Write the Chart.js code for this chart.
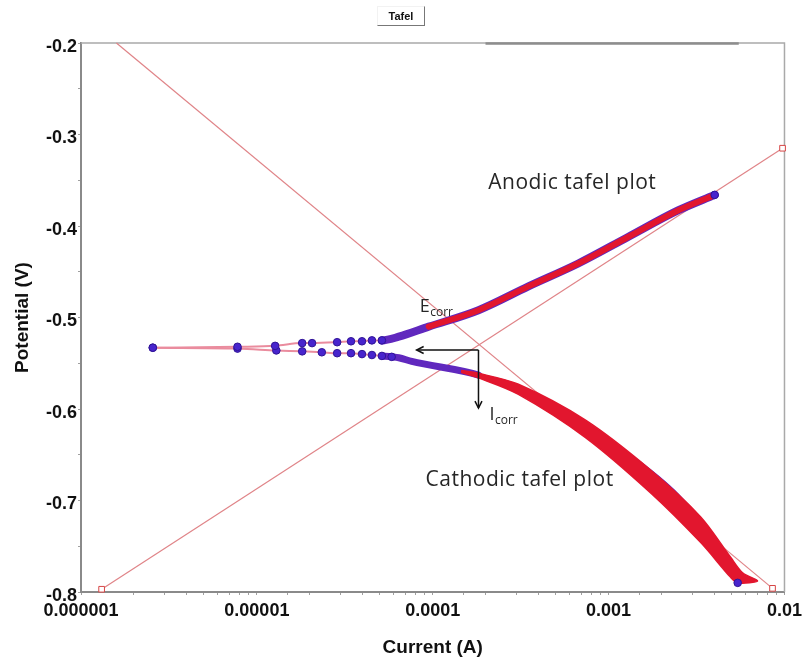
<!DOCTYPE html>
<html>
<head>
<meta charset="utf-8">
<script src="https://cdn.jsdelivr.net/npm/chart.js@4/dist/chart.umd.min.js"></script>
<style>
  html, body { margin: 0; padding: 0; background: #fff; }
  #wrap { position: relative; width: 807px; height: 665px; }
  #tafelTab {
    position: absolute; left: 377px; top: 6px; width: 48px; height: 20px;
    box-sizing: border-box; border: 1px solid; border-color: #f2f2f2 #777 #777 #f2f2f2;
    font: bold 11px "Liberation Sans", Arial, sans-serif; color: #111;
    text-align: center; line-height: 19px;
  }
</style>
</head>
<body>
<div id="wrap">
  <canvas id="tafelChart" width="807" height="665"></canvas>
  <div id="tafelTab">Tafel</div>
</div>
<script>
// measured scan, upper (anodic) branch
const anodicCurrent = [2.56e-6, 7.76e-6, 1.27e-5, 1.81e-5, 2.06e-5, 2.86e-5, 3.43e-5, 3.96e-5, 4.51e-5, 5.14e-5,
  6.41e-5, 9.48e-5, 1.82e-4, 3.50e-4, 6.72e-4, 1.29e-3, 2.48e-3, 4.01e-3];
const anodicPotential = [-0.533, -0.532, -0.531, -0.528, -0.528, -0.527, -0.526, -0.526, -0.525, -0.525,
  -0.521, -0.510, -0.492, -0.466, -0.441, -0.412, -0.383, -0.366];

// measured scan, lower (cathodic) branch
const cathodicCurrent = [2.56e-6, 7.76e-6, 1.29e-5, 1.81e-5, 2.34e-5, 2.86e-5, 3.43e-5, 3.96e-5, 4.51e-5, 5.14e-5,
  5.84e-5, 6.41e-5, 7.6e-5, 1.82e-4, 3.50e-4, 6.72e-4, 1.29e-3, 2.48e-3, 3.83e-3, 5.26e-3, 5.42e-3];
const cathodicPotential = [-0.533, -0.534, -0.536, -0.537, -0.538, -0.539, -0.539, -0.540, -0.541, -0.542,
  -0.543, -0.544, -0.548, -0.563, -0.584, -0.614, -0.649, -0.694, -0.738, -0.785, -0.790];

// fitted cathodic region (wide band): upper edge, tip, lower edge back
const cathodicBandUpperCurrent = [1.45e-4, 1.82e-4, 3.07e-4, 7.36e-4, 1.74e-3, 3.34e-3, 4.94e-3, 5.78e-3];
const cathodicBandUpperPotential = [-0.558, -0.561, -0.573, -0.612, -0.667, -0.718, -0.762, -0.779];
const cathodicBandTipCurrent = [7.03e-3];
const cathodicBandTipPotential = [-0.788];
const cathodicBandLowerCurrent = [5.42e-3, 4.94e-3, 3.34e-3, 1.74e-3, 7.36e-4, 3.07e-4, 1.82e-4, 1.45e-4];
const cathodicBandLowerPotential = [-0.790, -0.784, -0.746, -0.692, -0.631, -0.584, -0.566, -0.560];

// Tafel extrapolation lines
const cathodicTafelCurrent = [1.59e-6, 8.55e-3];
const cathodicTafelPotential = [-0.2, -0.796];
const anodicTafelCurrent = [1.31e-6, 9.75e-3];
const anodicTafelPotential = [-0.797, -0.315];

// corrosion point and arrow ends
const corrCurrent = 1.82e-4;
const corrPotential = -0.5355;
const arrowLeftCurrent = 8.1e-5;
const arrowDownPotential = -0.599;

const xTicks = [1e-6, 1e-5, 1e-4, 1e-3, 1e-2];
const yTicks = [-0.8, -0.7, -0.6, -0.5, -0.4, -0.3, -0.2];

const sparseBelow = 6e-5;   // isolated points before the scan gets dense
const denseFrom = 5e-5;
const fitFrom = 9e-5;
const bandFrom = 1.8e-4;

const BLUE = 'rgb(72, 36, 205)';
const BLUE_DARK = 'rgb(48, 20, 150)';
const PURPLE = 'rgb(96, 40, 190)';
const RED = 'rgb(226, 22, 46)';
const PINK = 'rgb(234, 140, 158)';
const TAFEL = 'rgb(224, 132, 136)';

const pairs = (xs, ys) => xs.map((v, i) => ({ x: v, y: ys[i] }));

const anodicPts = pairs(anodicCurrent, anodicPotential);
const cathodicPts = pairs(cathodicCurrent, cathodicPotential);
const bandPts = pairs(cathodicBandUpperCurrent, cathodicBandUpperPotential)
  .concat(pairs(cathodicBandTipCurrent, cathodicBandTipPotential))
  .concat(pairs(cathodicBandLowerCurrent, cathodicBandLowerPotential));

const anodicSegment = {
  borderWidth: c => c.p0.parsed.x >= denseFrom ? 8 : 2,
  borderColor: c => c.p0.parsed.x >= denseFrom ? PURPLE : PINK
};
const cathodicSegment = {
  borderWidth: c => c.p0.parsed.x >= bandFrom ? 3 : (c.p0.parsed.x >= denseFrom ? 7 : 2),
  borderColor: c => c.p0.parsed.x >= denseFrom ? PURPLE : PINK
};
const dotRadius = c => {
  const n = c.dataset.data.length;
  return (c.parsed && (c.parsed.x < sparseBelow || c.dataIndex === n - 1)) ? 3.8 : 0;
};

const callouts = [
  { text: 'Anodic tafel plot', current: 2.07e-4, potential: -0.353 },
  { text: 'Cathodic tafel plot', current: 9.1e-5, potential: -0.678 }
];
const subLabels = [
  { main: 'E', sub: 'corr', current: 8.43e-5, potential: -0.4885 },
  { main: 'I', sub: 'corr', current: 2.1e-4, potential: -0.6066 }
];

const framePlugin = {
  id: 'frame',
  beforeDraw(chart) {
    const { ctx, width, height } = chart;
    ctx.save();
    ctx.fillStyle = '#fff';
    ctx.fillRect(0, 0, width, height);
    ctx.restore();
  },
  beforeDatasetsDraw(chart) {
    const { ctx, chartArea: a } = chart;
    ctx.save();
    ctx.strokeStyle = '#a9a9a9';
    ctx.lineWidth = 1.5;
    ctx.beginPath();
    ctx.moveTo(a.left, a.top);
    ctx.lineTo(a.right, a.top);
    ctx.lineTo(a.right, a.bottom);
    ctx.stroke();
    // darker strip along the top edge
    const w = a.right - a.left;
    ctx.strokeStyle = '#8d8d8d';
    ctx.lineWidth = 2.5;
    ctx.beginPath();
    ctx.moveTo(a.left + w * 0.575, a.top + 0.5);
    ctx.lineTo(a.left + w * 0.935, a.top + 0.5);
    ctx.stroke();
    ctx.restore();
  }
};

const calloutPlugin = {
  id: 'callouts',
  afterDatasetsDraw(chart) {
    const { ctx, scales: { x, y } } = chart;
    ctx.save();

    const cx = x.getPixelForValue(corrCurrent);
    const cy = y.getPixelForValue(corrPotential);
    const lx = x.getPixelForValue(arrowLeftCurrent);
    const by = y.getPixelForValue(arrowDownPotential);
    ctx.strokeStyle = '#111';
    ctx.lineWidth = 1.5;
    ctx.beginPath();
    ctx.moveTo(cx, cy); ctx.lineTo(lx, cy);
    ctx.moveTo(cx, cy); ctx.lineTo(cx, by);
    ctx.stroke();
    ctx.beginPath();
    ctx.moveTo(lx + 7, cy - 3.5); ctx.lineTo(lx, cy); ctx.lineTo(lx + 7, cy + 3.5);
    ctx.moveTo(cx - 3.5, by - 7); ctx.lineTo(cx, by); ctx.lineTo(cx + 3.5, by - 7);
    ctx.stroke();

    ctx.fillStyle = '#262626';
    ctx.textAlign = 'left';
    ctx.textBaseline = 'middle';
    ctx.letterSpacing = '0.5px';
    ctx.font = '21px "Open Sans", sans-serif';
    callouts.forEach(c => {
      ctx.fillText(c.text, x.getPixelForValue(c.current), y.getPixelForValue(c.potential));
    });
    ctx.letterSpacing = '0px';
    subLabels.forEach(s => {
      const px = x.getPixelForValue(s.current);
      const py = y.getPixelForValue(s.potential);
      ctx.font = '18px "Open Sans", sans-serif';
      ctx.fillText(s.main, px, py);
      const mw = ctx.measureText(s.main).width;
      ctx.font = '12px "Open Sans", sans-serif';
      ctx.fillText(s.sub, px + mw + 0.5, py + 6);
    });
    ctx.restore();
  }
};

const tickFont = { family: '"Liberation Sans", Arial, sans-serif', size: 18, weight: 'bold' };
const titleFont = { family: '"Liberation Sans", Arial, sans-serif', size: 19, weight: 'bold' };

new Chart(document.getElementById('tafelChart'), {
  type: 'scatter',
  data: {
    datasets: [
      {
        label: 'Cathodic Tafel fit',
        data: pairs(cathodicTafelCurrent, cathodicTafelPotential),
        showLine: true, borderColor: TAFEL, borderWidth: 1.2, clip: false,
        pointStyle: 'rect', pointRadius: [0, 4], pointBorderColor: 'rgb(214, 70, 70)',
        pointBackgroundColor: '#fff', pointBorderWidth: 1, order: 10
      },
      {
        label: 'Anodic Tafel fit',
        data: pairs(anodicTafelCurrent, anodicTafelPotential),
        showLine: true, borderColor: TAFEL, borderWidth: 1.2, clip: false,
        pointStyle: 'rect', pointRadius: 4, pointBorderColor: 'rgb(214, 70, 70)',
        pointBackgroundColor: '#fff', pointBorderWidth: 1, order: 10
      },
      {
        label: 'Anodic scan',
        data: anodicPts, showLine: true, pointRadius: 0, cubicInterpolationMode: 'monotone',
        segment: anodicSegment, borderCapStyle: 'round', borderJoinStyle: 'round', order: 8
      },
      {
        label: 'Cathodic scan',
        data: cathodicPts, showLine: true, pointRadius: 0, cubicInterpolationMode: 'monotone',
        segment: cathodicSegment, borderCapStyle: 'round', borderJoinStyle: 'round', order: 8
      },
      {
        label: 'Anodic fit region',
        data: anodicPts.filter(p => p.x >= fitFrom), showLine: true, pointRadius: 0,
        cubicInterpolationMode: 'monotone',
        borderColor: RED, borderWidth: 6, borderCapStyle: 'round', borderJoinStyle: 'round', order: 6
      },
      {
        label: 'Cathodic fit region',
        data: bandPts, showLine: true, pointRadius: 0, tension: 0.3,
        borderColor: RED, borderWidth: 1.5, backgroundColor: RED, fill: 'shape', order: 6
      },
      {
        label: 'Anodic points',
        data: anodicPts, showLine: false, pointRadius: dotRadius,
        pointBackgroundColor: BLUE, pointBorderColor: BLUE_DARK, pointBorderWidth: 1, order: 2
      },
      {
        label: 'Cathodic points',
        data: cathodicPts, showLine: false, pointRadius: dotRadius,
        pointBackgroundColor: BLUE, pointBorderColor: BLUE_DARK, pointBorderWidth: 1, order: 2
      }
    ]
  },
  options: {
    responsive: false,
    animation: false,
    events: [],
    layout: { padding: { top: 43, right: 20, left: 0, bottom: 0 } },
    plugins: { legend: { display: false }, tooltip: { enabled: false } },
    scales: {
      x: {
        type: 'logarithmic',
        min: xTicks[0], max: xTicks[xTicks.length - 1],
        afterFit: s => { s.height = 73; },
        border: { color: '#8a8a8a', width: 2 },
        grid: { drawOnChartArea: false, drawTicks: true, tickLength: 3, color: '#a0a0a0' },
        ticks: {
          autoSkip: false, maxRotation: 0, padding: 5, color: '#111', font: tickFont,
          callback: v => {
            const hit = xTicks.find(t => Math.abs(Math.log10(v) - Math.log10(t)) < 1e-9);
            return hit === undefined ? '' : hit.toFixed(Math.round(-Math.log10(hit)));
          }
        },
        title: { display: true, text: 'Current (A)', color: '#111', font: titleFont, padding: { top: 0, bottom: 6 } }
      },
      y: {
        type: 'linear',
        min: yTicks[0], max: yTicks[yTicks.length - 1],
        afterFit: s => { s.width = 81; },
        border: { color: '#8a8a8a', width: 2 },
        grid: { drawOnChartArea: false, drawTicks: true, tickLength: 3, color: '#a0a0a0' },
        ticks: {
          stepSize: 0.05, autoSkip: false, padding: 1, labelOffset: 4, color: '#111', font: tickFont,
          callback: v => {
            const hit = yTicks.find(t => Math.abs(v - t) < 1e-6);
            return hit === undefined ? '' : hit.toFixed(1);
          }
        },
        title: { display: true, text: 'Potential (V)', color: '#111', font: titleFont, padding: { top: 11, bottom: 0 } }
      }
    }
  },
  plugins: [framePlugin, calloutPlugin]
});
</script>
</body>
</html>
